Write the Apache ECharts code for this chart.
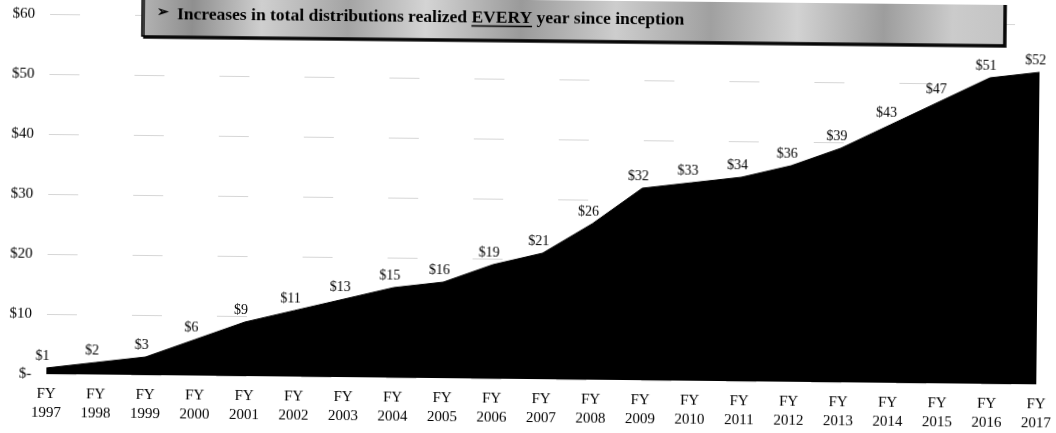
<!DOCTYPE html>
<html><head><meta charset="utf-8">
<script src="https://cdn.jsdelivr.net/npm/echarts@6/dist/echarts.min.js"></script>
<style>html,body{margin:0;padding:0;background:#fff;overflow:hidden}#c{width:1056px;height:433px;transform:rotate(0.6deg);transform-origin:50% 50%}</style>
</head><body><div id="c"></div>
<script>
const years = ['1997','1998','1999','2000','2001','2002','2003','2004','2005','2006','2007','2008','2009','2010','2011','2012','2013','2014','2015','2016','2017'];
const categories = years.map(y => 'FY\n' + y);
const distributions = [1,2,3,6,9,11,13,15,16,19,21,26,32,33,34,36,39,43,47,51,52];
const calloutPrefix = 'Increases in total distributions realized ';
const calloutEmph = 'EVERY';
const calloutSuffix = ' year since inception';

const serif = '"Liberation Serif","DejaVu Serif",serif';
const calloutSize = 17.5;
const tx = 175, tBase = 23.5;
const mctx = document.createElement('canvas').getContext('2d');
mctx.font = 'bold ' + calloutSize + 'px "Liberation Serif"';
const wPre = mctx.measureText(calloutPrefix).width;
const wEm = mctx.measureText(calloutEmph).width;

const chart = echarts.init(document.getElementById('c'), null, {renderer:'canvas'});
chart.setOption({
  animation:false,
  grid:{left:48,right:16,top:19,bottom:54,containLabel:false},
  xAxis:{type:'category',data:categories,boundaryGap:false,
    axisLine:{show:false},axisTick:{show:false},
    axisLabel:{color:'#000',fontFamily:serif,fontSize:15,lineHeight:19.5,margin:10,interval:0},
    splitLine:{show:false}},
  yAxis:{type:'value',min:0,max:60,interval:10,
    axisLine:{show:false},axisTick:{show:false},
    axisLabel:{color:'#000',fontFamily:serif,fontSize:15,margin:15,
      formatter:v=> v===0?'$-':'$'+v},
    splitLine:{show:true,lineStyle:{color:'#d6d6d6',type:[30,55],width:1}}},
  series:[{type:'line',data:distributions,symbol:'circle',symbolSize:0.1,showSymbol:true,
    itemStyle:{color:'#000'},
    lineStyle:{color:'#000',width:1},
    areaStyle:{color:'#000',opacity:1},
    label:{show:true,position:'top',distance:5,offset:[-4,0],color:'#000',fontFamily:serif,fontSize:14,
      formatter:p=>'$'+p.value}}],
  graphic:[
    {type:'rect',z:10,shape:{x:140,y:-10,width:862,height:50},
     style:{fill:new echarts.graphic.LinearGradient(0,0,1,0.3,[
       {offset:0,color:'#b4b4b4'},{offset:0.06,color:'#8f8f8f'},{offset:0.14,color:'#cfcfcf'},
       {offset:0.24,color:'#a4a4a4'},{offset:0.33,color:'#d4d4d4'},{offset:0.44,color:'#9a9a9a'},
       {offset:0.55,color:'#cdcdcd'},{offset:0.66,color:'#a0a0a0'},{offset:0.76,color:'#d2d2d2'},
       {offset:0.86,color:'#9d9d9d'},{offset:0.94,color:'#cbcbcb'},{offset:1,color:'#c4c4c4'}]),
       stroke:'#000',lineWidth:1.5,shadowColor:'rgba(0,0,0,0.9)',shadowOffsetX:2,shadowOffsetY:2,shadowBlur:0}},
    {type:'text',z:11,x:155,y:tBase,
     style:{text:'➢',fill:'#000',fontSize:14,fontWeight:'bold',fontFamily:serif,verticalAlign:'bottom'}},
    {type:'text',z:11,x:tx,y:tBase+4,
     style:{text:calloutPrefix+calloutEmph+calloutSuffix,fill:'#000',fontSize:calloutSize,fontWeight:'bold',fontFamily:serif,verticalAlign:'bottom'}},
    {type:'line',z:11,shape:{x1:tx+wPre,y1:tBase+3,x2:tx+wPre+wEm,y2:tBase+3},style:{stroke:'#000',lineWidth:1.5}}
  ]
});
</script></body></html>
